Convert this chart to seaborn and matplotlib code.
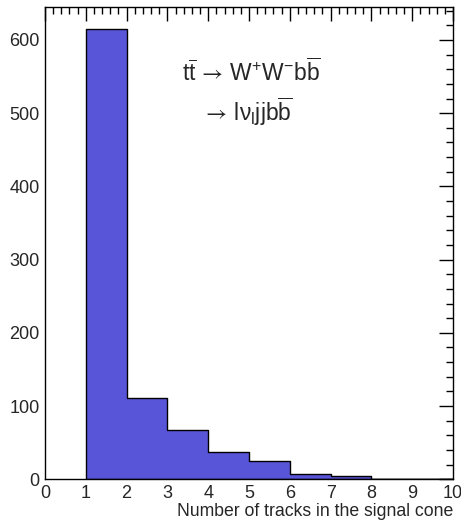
import numpy as np
import matplotlib
matplotlib.use("Agg")
import matplotlib.pyplot as plt
from matplotlib.ticker import MultipleLocator
import seaborn as sns

# data
bin_edges = [1, 2, 3, 4, 5, 6, 7, 8, 9, 10]
bin_centers = [1.5, 2.5, 3.5, 4.5, 5.5, 6.5, 7.5, 8.5, 9.5]
counts = [615, 111, 68, 37, 25, 7, 4, 0, 1]
x_label = "Number of tracks in the signal cone"
line1 = r"$\mathregular{t\overline{t}\,\mathsf{\rightarrow}\,W^{+}W^{-}b\overline{b}}$"
line2 = r"$\mathregular{\mathsf{\rightarrow}\,l\nu_{l}jjb\overline{b}}$"

sns.set_style("white")
plt.rcParams["font.family"] = ["Liberation Sans", "DejaVu Sans"]
plt.rcParams["mathtext.fontset"] = "custom"
plt.rcParams["mathtext.rm"] = "Liberation Sans"
plt.rcParams["mathtext.it"] = "Liberation Sans:italic"
plt.rcParams["mathtext.bf"] = "Liberation Sans:bold"
plt.rcParams["mathtext.sf"] = "STIXGeneral"
plt.rcParams["mathtext.fallback"] = "stixsans"

fig = plt.figure(figsize=(4.61, 5.26), dpi=100)
ax = fig.add_axes([45/461, 1-479.3/526, (453-45)/461, (479.3-7)/526])

sns.histplot(x=bin_centers, weights=counts, bins=bin_edges, element="step",
             fill=True, color="#5955d9", alpha=1.0, edgecolor="black",
             linewidth=1.0, ax=ax)

ax.set_xlim(0, 10)
ax.set_ylim(0, 645)
ax.xaxis.set_major_locator(MultipleLocator(1))
ax.xaxis.set_minor_locator(MultipleLocator(0.2))
ax.yaxis.set_major_locator(MultipleLocator(100))
ax.yaxis.set_minor_locator(MultipleLocator(20))
ax.tick_params(which="both", direction="in", top=True, right=True,
               color="black", width=1)
ax.tick_params(which="major", length=10, labelsize=13, pad=4)
ax.tick_params(which="minor", length=5)
for s in ax.spines.values():
    s.set_color("black")
    s.set_linewidth(1)

ax.set_ylabel("")
ax.set_xlabel(x_label, loc="right", fontsize=12.7, labelpad=1)

ax.text(5.07, 556, line1, ha="center", va="center", fontsize=16.5)
ax.text(4.96, 502, line2, ha="center", va="center", fontsize=16.5)

fig.savefig("out.png", dpi=100)
